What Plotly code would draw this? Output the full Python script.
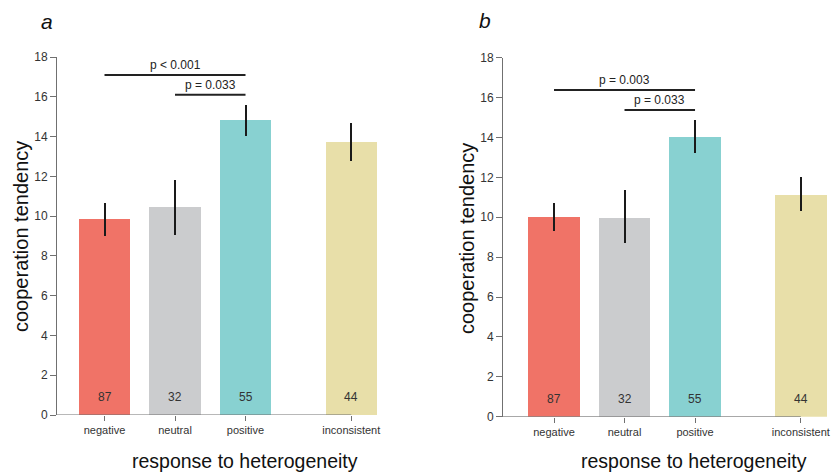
import plotly.graph_objects as go

W, H = 832, 472

categories = ["negative", "neutral", "positive", "inconsistent"]
cat_pos = [0, 1, 2, 3.5]
colors = ["#F07367", "#CBCCCE", "#88D1D1", "#E8DFA9"]
counts = ["87", "32", "55", "44"]

# panel a
mean_a = [9.84, 10.45, 14.82, 13.72]
upper_a = [10.65, 11.84, 15.58, 14.70]
lower_a = [9.01, 9.06, 14.02, 12.75]
sig_a = [(0, 2, 17.1, "p < 0.001"), (1, 2, 16.1, "p = 0.033")]

# panel b
mean_b = [10.01, 10.0, 14.03, 11.15]
upper_b = [10.73, 11.35, 14.87, 12.02]
lower_b = [9.30, 8.70, 13.20, 10.30]
sig_b = [(0, 2, 16.38, "p = 0.003"), (1, 2, 15.38, "p = 0.033")]

y_ticks = list(range(0, 19, 2))

FONT = "Liberation Sans, Arial, sans-serif"
AXIS_COL = "#707070"

fig = go.Figure()

panels = [
    dict(mean=mean_a, up=upper_a, lo=lower_a, sig=sig_a, xa="x", ya="y",
         xdom=[57 / W, 386.5 / W], xr=[-0.674, 4.0],
         ydom=[(H - 415) / H, (H - 57) / H],
         letter="a", lx=47, ly=22, ytx=21, yty=237, xtx=245, xty=461),
    dict(mean=mean_b, up=upper_b, lo=lower_b, sig=sig_b, xa="x2", ya="y2",
         xdom=[503 / W, 829 / W], xr=[-0.7234, 3.9],
         ydom=[(H - 416.7) / H, (H - 57.7) / H],
         letter="b", lx=485, ly=20, ytx=467, yty=238, xtx=694, xty=461),
]

def paper_ann(x, y, text, size, angle=0):
    fig.add_annotation(x=x / W, y=1 - y / H, xref="paper", yref="paper",
                       xanchor="center", yanchor="middle", text=text,
                       textangle=angle, showarrow=False,
                       font=dict(size=size, color="#111", family=FONT))

for i, p in enumerate(panels):
    fig.add_trace(go.Bar(
        x=cat_pos, y=p["mean"], width=0.73,
        marker=dict(color=colors, line=dict(width=0)),
        error_y=dict(type="data", symmetric=False,
                     array=[u - m for u, m in zip(p["up"], p["mean"])],
                     arrayminus=[m - l for m, l in zip(p["mean"], p["lo"])],
                     width=0, thickness=2, color="#1a1a1a"),
        xaxis=p["xa"], yaxis=p["ya"], showlegend=False, hoverinfo="skip",
    ))
    suffix = "" if i == 0 else "2"
    fig.update_layout(**{
        "xaxis" + suffix: dict(domain=p["xdom"], range=p["xr"], showline=False,
                               showgrid=False, zeroline=False, ticks="outside",
                               ticklen=5, tickcolor=AXIS_COL, tickwidth=1,
                               tickvals=cat_pos, ticktext=categories,
                               tickfont=dict(size=11, color="#333", family=FONT),
                               anchor="y" + suffix, fixedrange=True,
                               automargin=False),
        "yaxis" + suffix: dict(domain=p["ydom"], range=[0, 18], showline=True,
                               linecolor=AXIS_COL, linewidth=1, showgrid=False,
                               zeroline=False, ticks="outside", ticklen=6,
                               tickcolor=AXIS_COL, tickvals=y_ticks,
                               tickfont=dict(size=12, color="#333", family=FONT),
                               anchor="x" + suffix, fixedrange=True,
                               automargin=False),
    })
    # x axis baseline from y-axis to last tick
    fig.add_shape(type="line", xref=p["xa"], yref=p["ya"],
                  x0=p["xr"][0], x1=cat_pos[-1], y0=0, y1=0,
                  line=dict(color=AXIS_COL, width=1), layer="above")
    # significance brackets
    for (a0, a1, yv, txt) in p["sig"]:
        fig.add_shape(type="line", xref=p["xa"], yref=p["ya"],
                      x0=cat_pos[a0], x1=cat_pos[a1], y0=yv, y1=yv,
                      line=dict(color="#222", width=2))
        fig.add_annotation(x=(cat_pos[a0] + cat_pos[a1]) / 2, y=yv + 0.48,
                           xref=p["xa"], yref=p["ya"], text=txt, showarrow=False,
                           xanchor="center", yanchor="middle",
                           font=dict(size=12, color="#222", family=FONT))
    # counts
    for xpos, c in zip(cat_pos, counts):
        fig.add_annotation(x=xpos, y=0.9, xref=p["xa"], yref=p["ya"], text=c,
                           showarrow=False, xanchor="center", yanchor="middle",
                           font=dict(size=12, color="#333", family=FONT))
    paper_ann(p["lx"], p["ly"], "<i>" + p["letter"] + "</i>", 21)
    paper_ann(p["ytx"], p["yty"], "cooperation tendency", 20, -90)
    paper_ann(p["xtx"], p["xty"], "response to heterogeneity", 19.5)

fig.update_layout(width=W, height=H, margin=dict(l=0, r=0, t=0, b=0, pad=0),
                  paper_bgcolor="white", plot_bgcolor="white",
                  font=dict(family=FONT), bargap=0)

fig.write_html("out.html")
